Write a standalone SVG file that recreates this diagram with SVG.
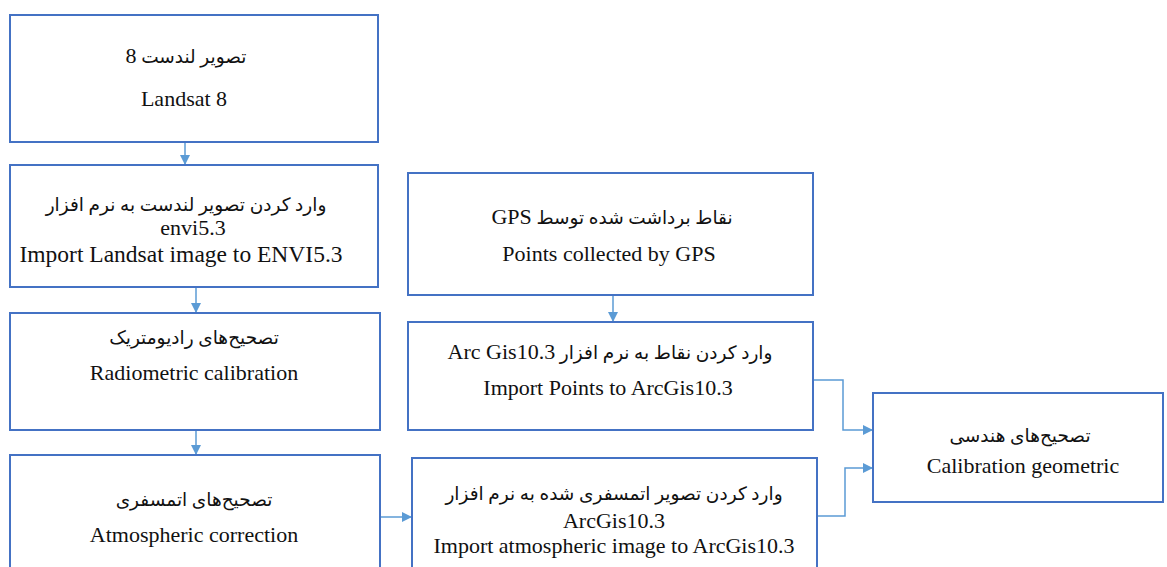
<svg xmlns="http://www.w3.org/2000/svg" width="1167" height="567" viewBox="0 0 1167 567">
<style>
.box{fill:#fff;stroke:#4472C4;stroke-width:2}
.en{font-family:"Liberation Serif","Times New Roman",serif;font-size:22px;fill:#111;text-anchor:middle}
.fa{font-family:"Liberation Serif","DejaVu Sans",serif;font-size:18.5px;fill:#111;text-anchor:middle}
.lt{font-size:22px}
.con{fill:none;stroke:#5B9BD5;stroke-width:1.5}
</style>
<defs>
<marker id="arr" viewBox="0 0 10 10" refX="9" refY="5" markerWidth="10" markerHeight="10" markerUnits="userSpaceOnUse" orient="auto">
<path d="M0,0 L10,5 L0,10 Z" fill="#5B9BD5"/>
</marker>
</defs>
<rect width="1167" height="567" fill="#fff"/>
<g id="connectors">
<line class="con" x1="185" y1="142" x2="185" y2="164" marker-end="url(#arr)"/>
<line class="con" x1="196" y1="287" x2="196" y2="312" marker-end="url(#arr)"/>
<line class="con" x1="196" y1="430" x2="196" y2="454" marker-end="url(#arr)"/>
<line class="con" x1="613" y1="295" x2="613" y2="321" marker-end="url(#arr)"/>
<line class="con" x1="381" y1="517" x2="411" y2="517" marker-end="url(#arr)"/>
<polyline class="con" points="813,380 843,380 843,430 872,430" marker-end="url(#arr)"/>
<polyline class="con" points="817,516 845,516 845,468 872,468" marker-end="url(#arr)"/>
</g>
<g id="n1">
<rect class="box" x="10" y="15" width="368" height="127"/>
<text class="fa" x="186" y="63" direction="rtl">تصویر لندست <tspan class="lt">8</tspan></text>
<text class="en" x="184" y="106">Landsat 8</text>
</g>
<g id="n2">
<rect class="box" x="10" y="165" width="368" height="122"/>
<text class="fa" x="186" y="211" direction="rtl">وارد کردن تصویر لندست به نرم افزار</text>
<text class="en" x="193" y="235">envi5.3</text>
<text class="en" x="181" y="262" style="font-size:23.5px">Import Landsat image to ENVI5.3</text>
</g>
<g id="n3">
<rect class="box" x="10" y="313" width="370" height="117"/>
<text class="fa" x="194" y="344" direction="rtl">تصحیح‌های رادیومتریک</text>
<text class="en" x="194" y="380">Radiometric calibration</text>
</g>
<g id="n4">
<rect class="box" x="10" y="455" width="370" height="130"/>
<text class="fa" x="194" y="506" direction="rtl">تصحیح‌های اتمسفری</text>
<text class="en" x="194" y="542">Atmospheric correction</text>
</g>
<g id="n5">
<rect class="box" x="408" y="173" width="405" height="122"/>
<text class="fa" x="612" y="224" direction="rtl">نقاط برداشت شده توسط <tspan class="lt">GPS</tspan></text>
<text class="en" x="609" y="261">Points collected by GPS</text>
</g>
<g id="n6">
<rect class="box" x="408" y="322" width="405" height="108"/>
<text class="fa" x="610" y="359" direction="rtl">وارد کردن نقاط به نرم افزار <tspan class="lt">Arc Gis10.3</tspan></text>
<text class="en" x="608" y="395">Import Points to ArcGis10.3</text>
</g>
<g id="n7">
<rect class="box" x="412" y="458" width="405" height="130"/>
<text class="fa" x="614" y="500" direction="rtl">وارد کردن تصویر اتمسفری شده به نرم افزار</text>
<text class="en" x="614" y="528">ArcGis10.3</text>
<text class="en" x="614" y="553">Import atmospheric image to ArcGis10.3</text>
</g>
<g id="n8">
<rect class="box" x="873" y="393" width="290" height="109"/>
<text class="fa" x="1020" y="442" direction="rtl">تصحیح‌های هندسی</text>
<text class="en" x="1023" y="473">Calibration geometric</text>
</g>
</svg>
